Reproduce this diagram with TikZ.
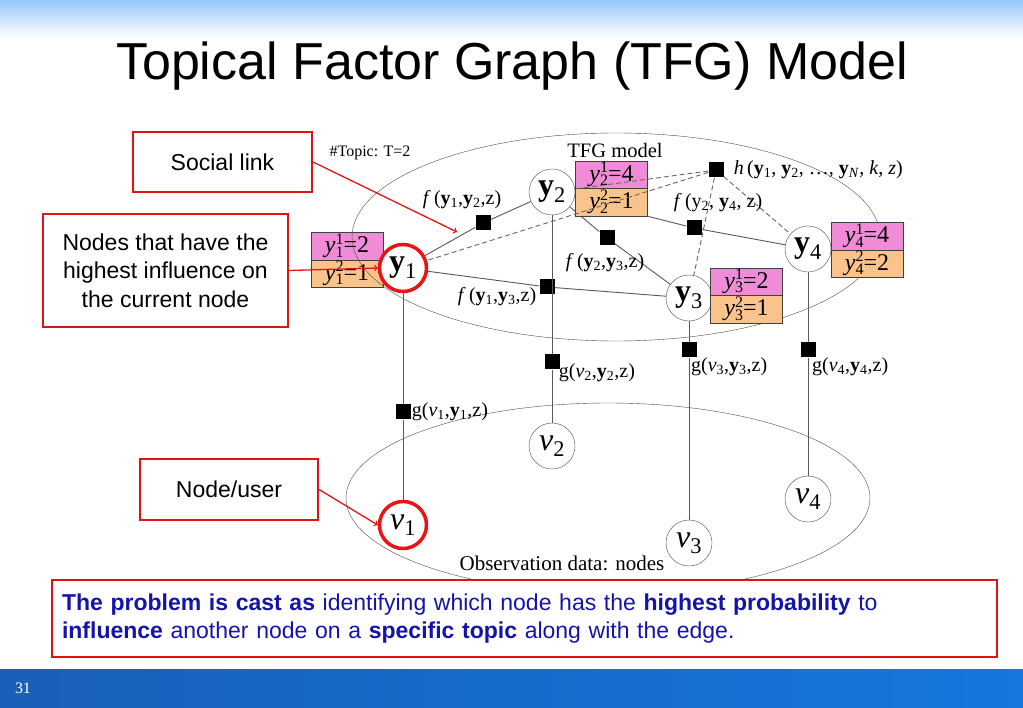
\documentclass[tikz,border=0pt]{standalone}
\usepackage{fontspec}
\setmainfont{Liberation Serif}
\newfontfamily\slidefont{Liberation Sans}
\usetikzlibrary{calc,shapes.multipart,shapes.geometric,positioning,arrows}

\definecolor{skytop}{RGB}{150,200,250}
\definecolor{band1}{RGB}{25,95,185}
\definecolor{band2}{RGB}{40,140,225}
\definecolor{band3}{RGB}{20,120,220}
\definecolor{calloutred}{RGB}{225,20,20}
\definecolor{ringred}{RGB}{235,20,20}
\definecolor{topicpink}{RGB}{240,140,215}
\definecolor{topicorange}{RGB}{250,195,140}
\definecolor{castblue}{RGB}{20,20,170}

\newcommand{\yb}[1]{\textbf{y}\textsubscript{#1}}
\newcommand{\vi}[1]{\textit{v}\textsubscript{#1}}
\newcommand{\smalldigit}[1]{{\fontsize{16}{16}\selectfont #1}}
\newcommand{\yval}[3]{\textit{y}\rlap{\raisebox{8.5pt}{\smalldigit{#2}}}\raisebox{-4.5pt}{\smalldigit{#1}}=#3}
\newcommand{\rowstrut}{\rule[-7pt]{0pt}{27pt}}

\tikzset{
  var/.style={ % variable node of the graph
    circle, draw=black!70, fill=white, minimum size=46pt, inner sep=0pt,
    font=\fontsize{32}{34}\selectfont
  },
  hot/.style={draw=ringred, line width=3.5pt, minimum size=47pt},
  factor/.style={ % black factor square
    rectangle, fill=black, minimum size=15pt, inner sep=0pt
  },
  vals/.style={ % topic values of one node
    rectangle split, rectangle split parts=2, draw=black!75,
    inner sep=0pt, text width=72pt, align=center,
    rectangle split part fill={topicpink, topicorange},
    font=\fontsize{24}{26}\selectfont
  },
  plate/.style={ellipse, draw=black!70, thin, inner sep=0pt},
  lbl/.style={inner sep=1pt, font=\fontsize{20}{22}\selectfont},
  link/.style={draw=black!65, line width=0.9pt},
  hlink/.style={draw=black!60, line width=0.9pt, dash pattern=on 5pt off 3pt},
  callout/.style={ % red framed remark
    draw=calloutred, line width=2.2pt, fill=white, align=center,
    font=\slidefont\fontsize{23}{28.5}\selectfont
  },
  pointer/.style={->, draw=calloutred, line width=1.3pt}
}

\begin{document}
\begin{tikzpicture}[x=1pt, y=-1pt]
  \useasboundingbox (0,0) rectangle (1023,708);
  \fill[white] (0,0) rectangle (1023,708);
  \fill[top color=skytop, bottom color=white] (0,0) rectangle (1023,38);
  \fill[left color=band1, middle color=band2, right color=band3] (0,669) rectangle (1023,708);
  \node[text=white, font=\fontsize{16}{18}\selectfont] (pageno) at (23,688) {31};
  \node[font=\slidefont\fontsize{52}{60}\selectfont, anchor=base] (title) at (512,80) {Topical Factor Graph (TFG) Model};

  % first box lies under the plate
  \node[vals] (b1) at (347,260) {\yval{1}{1}{2}\rowstrut\nodepart{two}\yval{1}{2}{1}\rowstrut};

  \node[plate, minimum width=528pt, minimum height=208pt] (tfg) at (616,237) {};
  \node[plate, minimum width=524pt, minimum height=190pt] (obs) at (608,498) {};

  \node[var, hot] (y1) at (403,268) {\yb{1}};
  \node[var] (y2) at (552,192) {\yb{2}};
  \node[var] (y3) at (689,298) {\yb{3}};
  \node[var] (y4) at (808,249) {\yb{4}};
  \node[var, hot] (v1) at (403,525) {\vi{1}};
  \node[var] (v2) at (552,446) {\vi{2}};
  \node[var] (v3) at (689,543) {\vi{3}};
  \node[var] (v4) at (808,499) {\vi{4}};

  \node[factor] (f12) at (483,223) {};
  \node[factor] (f13) at (547,287) {};
  \node[factor] (f23) at (607,238) {};
  \node[factor] (f24) at (694,228) {};
  \node[factor] (h) at (716,170) {};
  \node[factor] (g1) at (403,412) {};
  \node[factor] (g2) at (552,362) {};
  \node[factor] (g3) at (689,350) {};
  \node[factor] (g4) at (808,350) {};

  \draw[link] (y1) -- (f12) -- (y2);
  \draw[link] (y1) -- (f13) -- (y3);
  \draw[link] (y2) -- (f23) -- (y3);
  \draw[link] (y2) -- (f24) -- (y4);
  \foreach \i in {1,...,4}
    \draw[link] (y\i) -- (g\i) -- (v\i);

  \node[vals] (b2) at (611.5,188.5) {\yval{2}{1}{4}\rowstrut\nodepart{two}\yval{2}{2}{1}\rowstrut};
  \node[vals] (b3) at (746.5,295.5) {\yval{3}{1}{2}\rowstrut\nodepart{two}\yval{3}{2}{1}\rowstrut};
  \node[vals] (b4) at (867,250) {\yval{4}{1}{4}\rowstrut\nodepart{two}\yval{4}{2}{2}\rowstrut};

  \foreach \i in {1,...,4}
    \draw[hlink] (h) -- (y\i);

  \node[lbl] (f12_label) at (462,200) {\textit{f}\,(\yb{1},\yb{2},z)};
  \node[lbl] (f13_label) at (497,297) {\textit{f}\,(\yb{1},\yb{3},z)};
  \node[lbl] (f23_label) at (605,263) {\textit{f}\,(\yb{2},\yb{3},z)};
  \node[lbl] (f24_label) at (718,203) {\textit{f}\,(y\textsubscript{2}, \yb{4}, z)};
  \node[lbl, right=9pt of h] (h_label) {\textit{h}\,(\yb{1}, \yb{2}, \ldots, \textbf{y}\textsubscript{\textit{N}}, \textit{k}, \textit{z})};
  \node[lbl, right=0pt of g1] (g1_label) {g(\vi{1},\yb{1},z)};
  \node[lbl, anchor=north west] (g2_label) at ($(g2.east)+(-2,0)$) {g(\vi{2},\yb{2},z)};
  \node[lbl, anchor=north west] (g3_label) at ($(g3.south)+(1,-1)$) {g(\vi{3},\yb{3},z)};
  \node[lbl, anchor=north west] (g4_label) at ($(g4.south)+(3,-1)$) {g(\vi{4},\yb{4},z)};
  \node[lbl, font=\fontsize{16}{18}\selectfont] (topic_label) at (370,153) {\#Topic: T=2};
  \node[lbl, font=\fontsize{20.5}{22}\selectfont] (tfg_label) at (615,150) {TFG model};
  \node[lbl, font=\fontsize{21}{23}\selectfont] (obs_label) at (562,563) {Observation data: nodes};

  \node[callout, minimum width=179pt, minimum height=60pt] (social) at (222.5,162) {Social link};
  \node[callout, minimum width=245pt, minimum height=113pt] (influence) at (165.5,270.5) {Nodes that have the\\highest influence on\\the current node};
  \node[callout, minimum width=178pt, minimum height=61pt] (user) at (229,489.5) {Node/user};

  \coordinate (link_tip) at (457,232);
  \draw[pointer] (social.east) -- (link_tip);
  \draw[pointer] (influence.east) -- (y1.west);
  \draw[pointer] (user.east) -- (v1.west);

  \node[callout, minimum width=945pt, minimum height=77pt, text width=925pt, align=left,
        text=castblue, font=\slidefont\fontsize{23}{28}\selectfont] (cast) at (524.5,618.5)
    {\textbf{The problem is cast as} identifying which node has the \textbf{highest probability} to\\
     \textbf{influence} another node on a \textbf{specific topic} along with the edge.};
\end{tikzpicture}
\end{document}
